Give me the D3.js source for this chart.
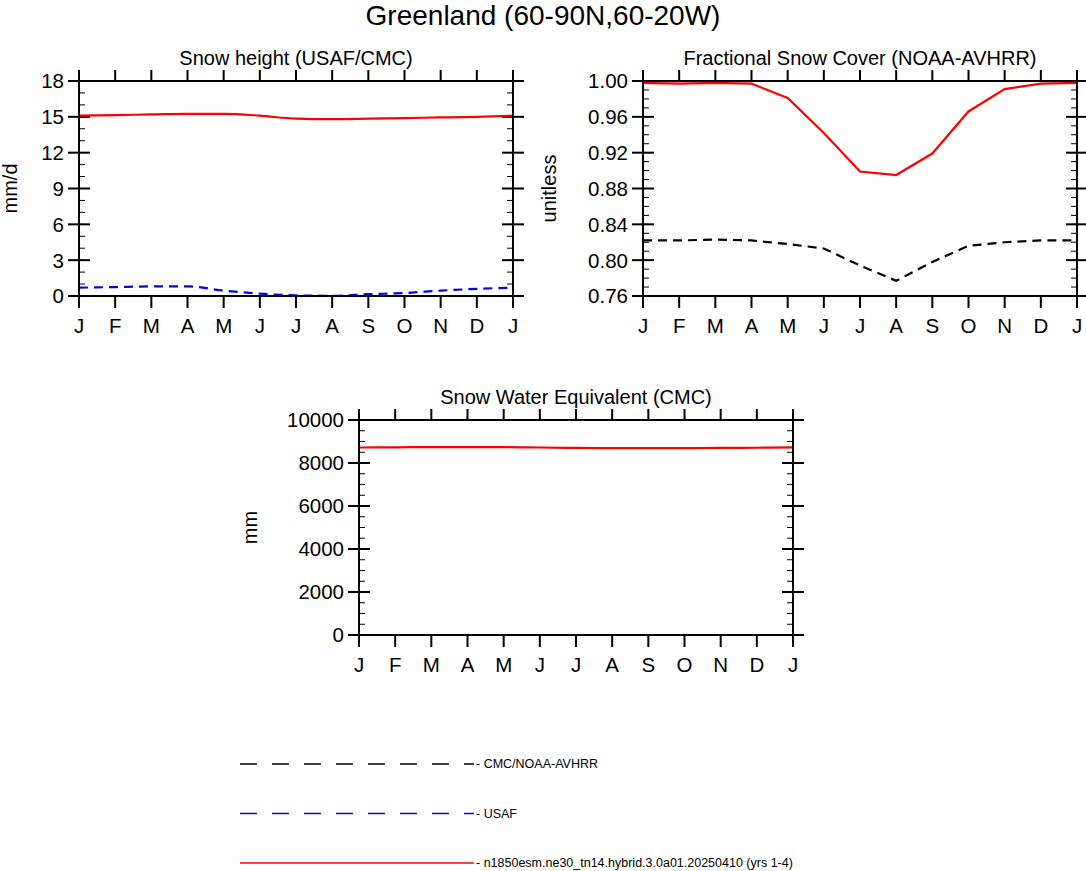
<!DOCTYPE html>
<html><head><meta charset="utf-8">
<script src="https://cdn.jsdelivr.net/npm/d3@7"></script>
<style>body{margin:0;background:#fff}svg{font-family:"Liberation Sans",Arial,sans-serif}</style>
</head><body><svg id="c" width="1086" height="871"></svg>
<script>
const months = ["J","F","M","A","M","J","J","A","S","O","N","D","J"];
const heightModel = [15.1,15.15,15.2,15.25,15.25,15.1,14.85,14.8,14.85,14.9,14.95,15.0,15.1];
const heightUsaf = [0.7,0.75,0.8,0.8,0.45,0.2,0.05,0.02,0.15,0.25,0.45,0.6,0.7];
const heightCmc = [0,0,0,0,0,0,0,0,0,0,0,0,0];
const fscModel = [0.998,0.997,0.998,0.997,0.981,0.942,0.899,0.895,0.919,0.966,0.991,0.997,0.998];
const fscObs = [0.822,0.822,0.823,0.822,0.818,0.813,0.794,0.777,0.798,0.816,0.820,0.822,0.822];
const sweModel = [8720,8730,8740,8740,8740,8720,8700,8690,8690,8690,8700,8710,8730];
const sweObs = [0,0,0,0,0,0,0,0,0,0,0,0,0];

const svg = d3.select("#c");
svg.append("text").attr("x",543).attr("y",25).attr("text-anchor","middle")
  .attr("font-size",28).text("Greenland (60-90N,60-20W)");

function panel(o){
  const g = svg.append("g").attr("transform",`translate(${o.x},${o.y})`);
  const w = 434, h = 215;
  const x = d3.scaleLinear().domain([0,12]).range([0,w]);
  const y = d3.scaleLinear().domain(o.domain).range([h,0]);
  const ticks = d3.range(o.domain[0], o.domain[1]+o.step/2, o.step);
  const minor = d3.range(o.domain[0], o.domain[1]+o.step/10, o.step/o.nminor);
  g.append("text").attr("x",w/2).attr("y",-16).attr("text-anchor","middle")
    .attr("font-size",20).text(o.title);
  g.append("text").attr("transform",`translate(${o.labx},${h/2}) rotate(-90)`)
    .attr("text-anchor","middle").attr("font-size",20).text(o.ylab);
  minor.forEach(v=>{
    g.append("line").attr("x1",0).attr("x2",6).attr("y1",y(v)).attr("y2",y(v)).attr("stroke","#000");
    g.append("line").attr("x1",w).attr("x2",w-6).attr("y1",y(v)).attr("y2",y(v)).attr("stroke","#000");
  });
  ticks.forEach(v=>{
    g.append("line").attr("x1",-11).attr("x2",11).attr("y1",y(v)).attr("y2",y(v)).attr("stroke","#000").attr("stroke-width",2);
    g.append("line").attr("x1",w-11).attr("x2",w+11).attr("y1",y(v)).attr("y2",y(v)).attr("stroke","#000").attr("stroke-width",2);
    g.append("text").attr("x",-15).attr("y",y(v)).attr("dy","0.36em").attr("text-anchor","end")
      .attr("font-size",20.5).text(o.fmt(v));
  });
  months.forEach((m,i)=>{
    g.append("line").attr("x1",x(i)).attr("x2",x(i)).attr("y1",-11).attr("y2",0).attr("stroke","#000").attr("stroke-width",2);
    g.append("line").attr("x1",x(i)).attr("x2",x(i)).attr("y1",h).attr("y2",h+12).attr("stroke","#000").attr("stroke-width",2);
    g.append("text").attr("x",x(i)).attr("y",h+37).attr("text-anchor","middle").attr("font-size",20.5).text(m);
  });
  const line = d3.line().x((d,i)=>x(i)).y(d=>y(d)).curve(o.curve);
  o.series.forEach(s=>{
    g.append("path").datum(s.data).attr("d",line).attr("fill","none")
      .attr("stroke",s.color).attr("stroke-width",2.2).attr("stroke-dasharray",s.dash||null);
  });
  g.append("rect").attr("width",w).attr("height",h).attr("fill","none").attr("stroke","#000").attr("stroke-width",2);
}

panel({x:79,y:81,domain:[0,18],step:3,nminor:3,title:"Snow height (USAF/CMC)",ylab:"mm/d",labx:-62,curve:d3.curveMonotoneX,
  fmt:d3.format("d"),series:[{data:heightCmc,color:"#000",dash:"9,6"},{data:heightUsaf,color:"#00f",dash:"9,6"},{data:heightModel,color:"#f00"}]});
panel({x:643,y:81,domain:[0.76,1.0],step:0.04,nminor:4,title:"Fractional Snow Cover (NOAA-AVHRR)",ylab:"unitless",labx:-87,curve:d3.curveLinear,
  fmt:d3.format(".2f"),series:[{data:fscObs,color:"#000",dash:"9,6"},{data:fscModel,color:"#f00"}]});
panel({x:359,y:420,domain:[0,10000],step:2000,nminor:4,title:"Snow Water Equivalent (CMC)",ylab:"mm",labx:-102,curve:d3.curveMonotoneX,
  fmt:d3.format("d"),series:[{data:sweObs,color:"#000",dash:"9,6"},{data:sweModel,color:"#f00"}]});

const legend = [
  {label:"CMC/NOAA-AVHRR",color:"#000",dash:"17,15"},
  {label:"USAF",color:"#00f",dash:"17,15"},
  {label:"n1850esm.ne30_tn14.hybrid.3.0a01.20250410 (yrs 1-4)",color:"#f00"}
];
legend.forEach((l,i)=>{
  const yy = 764 + i*49.5;
  svg.append("line").attr("x1",240).attr("x2",474).attr("y1",yy).attr("y2",yy)
    .attr("stroke",l.color).attr("stroke-width",1.3).attr("stroke-dasharray",l.dash||null);
  svg.append("text").attr("x",476).attr("y",yy).attr("dy","0.35em").attr("font-size",12.5).text("- "+l.label);
});
</script></body></html>
